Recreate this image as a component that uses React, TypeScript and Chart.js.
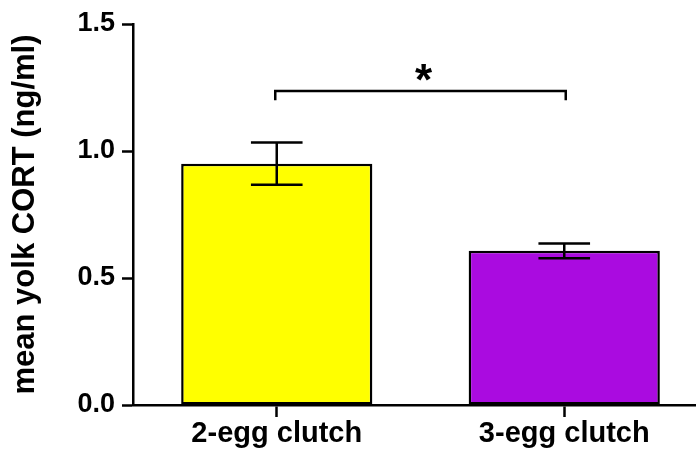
import { useEffect, useRef } from "react";
import { Chart, registerables } from "chart.js";

Chart.register(...registerables);

// Mean yolk corticosterone by clutch size, with standard-error whiskers
const categories = ["2-egg clutch", "3-egg clutch"];
const meanCort = [0.95, 0.607];
const semCort = [0.083, 0.029];
const barColors = ["#FFFF00", "#AA0BE0"];
const yTickValues = [0, 0.5, 1.0, 1.5];

// Significance bracket between the two groups
const sigPair = [0, 1];
const sigLevel = 1.236;
const sigDrop = 1.2;
const sigMark = "*";

const FONT = '"Liberation Sans", Arial, Helvetica, sans-serif';

const errorBars = {
  id: "errorBars",
  afterDatasetsDraw(chart: any) {
    const { ctx } = chart;
    const y = chart.scales.y;
    const meta = chart.getDatasetMeta(0);
    ctx.save();
    ctx.strokeStyle = "#000";
    ctx.lineWidth = 2.5;
    meta.data.forEach((bar: any, i: number) => {
      const cx = bar.x;
      const half = bar.width * 0.135;
      const hi = y.getPixelForValue(meanCort[i] + semCort[i]);
      const lo = y.getPixelForValue(meanCort[i] - semCort[i]);
      ctx.beginPath();
      ctx.moveTo(cx, hi);
      ctx.lineTo(cx, lo);
      ctx.moveTo(cx - half, hi);
      ctx.lineTo(cx + half, hi);
      ctx.moveTo(cx - half, lo);
      ctx.lineTo(cx + half, lo);
      ctx.stroke();
    });
    ctx.restore();
  },
};

const sigBracket = {
  id: "sigBracket",
  afterDatasetsDraw(chart: any) {
    const { ctx } = chart;
    const x = chart.scales.x;
    const y = chart.scales.y;
    const x0 = x.getPixelForValue(sigPair[0]) - 1.5;
    const x1 = x.getPixelForValue(sigPair[1]) + 1.5;
    const yTop = y.getPixelForValue(sigLevel);
    const yEnd = y.getPixelForValue(sigDrop);
    ctx.save();
    ctx.strokeStyle = "#000";
    ctx.lineWidth = 2.5;
    ctx.beginPath();
    ctx.moveTo(x0, yEnd);
    ctx.lineTo(x0, yTop);
    ctx.lineTo(x1, yTop);
    ctx.lineTo(x1, yEnd);
    ctx.stroke();
    ctx.fillStyle = "#000";
    ctx.font = `bold 44px ${FONT}`;
    ctx.textAlign = "center";
    ctx.textBaseline = "alphabetic";
    ctx.fillText(sigMark, (x0 + x1) / 2 + 3, yTop + 4);
    ctx.restore();
  },
};

export default function App() {
  const ref = useRef<HTMLCanvasElement>(null);

  useEffect(() => {
    const chart = new Chart(ref.current!, {
      type: "bar",
      data: {
        labels: categories,
        datasets: [
          {
            data: meanCort,
            backgroundColor: barColors,
            borderColor: "#000",
            borderWidth: 2.5,
            borderSkipped: false,
            barPercentage: 0.665,
            categoryPercentage: 1,
          },
        ],
      },
      options: {
        animation: false,
        responsive: false,
        devicePixelRatio: 1,
        layout: { padding: { top: 24, right: 4, bottom: 0, left: 0 } },
        plugins: {
          legend: { display: false },
          tooltip: { enabled: false },
        },
        scales: {
          x: {
            offset: true,
            grid: {
              offset: false,
              drawOnChartArea: false,
              drawTicks: true,
              tickLength: 12,
              tickWidth: 2.5,
              tickColor: "#000",
            },
            border: { display: true, color: "#000", width: 2.5 },
            ticks: {
              color: "#000",
              padding: 0,
              font: { family: FONT, size: 29, weight: "bold" },
            },
            afterFit(scale: any) {
              scale.height = 47;
            },
          },
          y: {
            min: 0,
            max: 1.5,
            afterBuildTicks(scale: any) {
              scale.ticks = yTickValues.map((v) => ({ value: v }));
            },
            grid: {
              drawOnChartArea: false,
              drawTicks: true,
              tickLength: 11,
              tickWidth: 2.5,
              tickColor: "#000",
            },
            border: { display: true, color: "#000", width: 2.5 },
            ticks: {
              color: "#000",
              padding: 7,
              font: { family: FONT, size: 27, weight: "bold" },
              callback: (v: any) => Number(v).toFixed(1),
            },
            title: {
              display: true,
              text: "mean yolk CORT (ng/ml)",
              color: "#000",
              padding: { top: 7, bottom: 0 },
              font: { family: FONT, size: 31, weight: "bold" },
            },
            afterFit(scale: any) {
              scale.width = 133;
            },
          },
        },
      },
      plugins: [errorBars, sigBracket],
    });
    return () => chart.destroy();
  }, []);

  return (
    <div
      style={{
        position: "fixed",
        left: 0,
        top: 0,
        width: 696,
        height: 452,
        overflow: "hidden",
        background: "#fff",
      }}
    >
      <canvas
        ref={ref}
        width={712}
        height={452}
        style={{ display: "block", width: 712, height: 452 }}
      />
    </div>
  );
}
